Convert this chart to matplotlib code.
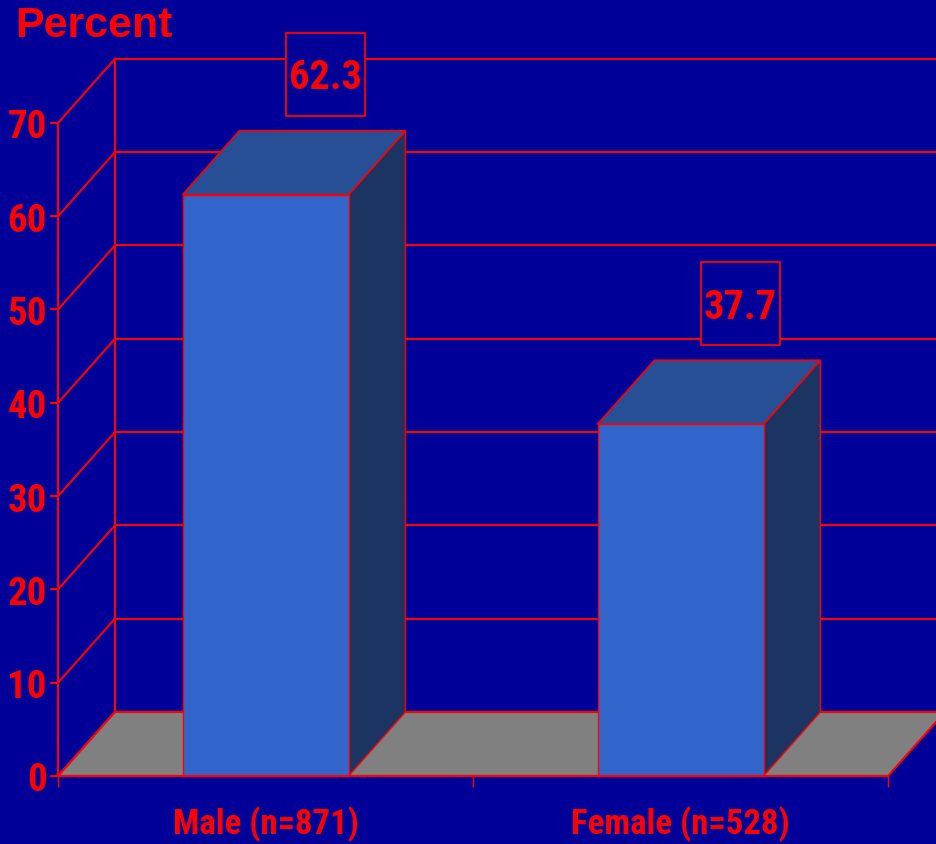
import matplotlib
matplotlib.use("Agg")
import os
import matplotlib.pyplot as plt
from matplotlib.patches import Polygon, Rectangle
from matplotlib import font_manager as fm

categories = ["Male (n=871)", "Female (n=528)"]
values = [62.3, 37.7]
value_labels = ["62.3", "37.7"]
y_ticks = [0, 10, 20, 30, 40, 50, 60, 70]
y_title = "Percent"

BG = "#000099"
RED = "#FF0000"
FRONT = "#3366CC"
TOP = "#264F96"
SIDE = "#1B3462"
FLOOR = "#808080"


def find_narrow_bold():
    files = [f.fname for f in fm.fontManager.ttflist]
    prefs = ["liberationsansnarrow-bold.", "robotocondensed-bold.",
             "dejavusanscondensed-bold.", "notosans-condensedbold.",
             "opensans-condensedbold.", "notosans-extracondensedbold."]
    for key in prefs:
        for f in files:
            if os.path.basename(f).lower().startswith(key):
                return fm.FontProperties(fname=f)
    for f in files:
        b = os.path.basename(f).lower()
        if ("condensed" in b or "narrow" in b) and "bold" in b and "italic" not in b \
                and "oblique" not in b and "semi" not in b and "extrabold" not in b:
            return fm.FontProperties(fname=f)
    return fm.FontProperties(family="DejaVu Sans", weight="bold", stretch="condensed")


NARROW = find_narrow_bold()


def fp(size):
    p = NARROW.copy()
    p.set_size(size)
    return p


fig = plt.figure(figsize=(9.37, 8.45), dpi=100, facecolor=BG)
ax = fig.add_axes([0, 0, 1, 1], facecolor=BG)
ax.set_xlim(-0.64, 1.618)
ax.set_ylim(-7.29, 83.28)

dx, dy = 0.137, 6.86   # depth offset
w = 0.40
x0, x1 = -0.5, 1.5
lw = 1.5

# back wall gridlines and diagonals
for t in y_ticks:
    ax.plot([x0 + dx, 1.7], [t + dy, t + dy], color=RED, lw=lw, zorder=1)
    ax.plot([x0, x0 + dx], [t, t + dy], color=RED, lw=lw, zorder=1)
ax.plot([x0 + dx, x0 + dx], [dy, y_ticks[-1] + dy], color=RED, lw=lw, zorder=1)

# floor
ax.add_patch(Polygon([(x0, 0), (x1, 0), (x1 + dx, dy), (x0 + dx, dy)], closed=True,
                     facecolor=FLOOR, edgecolor=RED, lw=lw, zorder=2))

# bars
bw, bh = 0.19, 8.9
for i, v in enumerate(values):
    l, r = i - w / 2, i + w / 2
    ax.add_patch(Polygon([(r, 0), (r + dx, dy), (r + dx, v + dy), (r, v)], closed=True,
                         facecolor=SIDE, edgecolor=RED, lw=1, zorder=3))
    ax.add_patch(Polygon([(l, v), (r, v), (r + dx, v + dy), (l + dx, v + dy)], closed=True,
                         facecolor=TOP, edgecolor=RED, lw=1.2, zorder=3))
    ax.add_patch(Rectangle((l, 0), w, v, facecolor=FRONT, edgecolor=RED, lw=1, zorder=4))
    cx, cy = i + 0.145, v + 12.9
    ax.add_patch(Rectangle((cx - bw / 2, cy - bh / 2), bw, bh, facecolor=BG,
                           edgecolor=RED, lw=1.3, zorder=6))
    ax.text(cx, cy - 0.3, value_labels[i], color=RED, fontproperties=fp(29),
            ha="center", va="center", zorder=7)

# axes via spines
for s in ["top", "right"]:
    ax.spines[s].set_visible(False)
ax.spines["left"].set_position(("data", x0))
ax.spines["left"].set_bounds(0, y_ticks[-1])
ax.spines["bottom"].set_position(("data", 0))
ax.spines["bottom"].set_bounds(x0, x1)
for s in ["left", "bottom"]:
    ax.spines[s].set_color(RED)
    ax.spines[s].set_linewidth(lw)
    ax.spines[s].set_zorder(5)

ax.set_yticks(y_ticks)
ax.set_yticklabels([str(t) for t in y_ticks], color=RED, fontproperties=fp(28))
ax.tick_params(axis="y", direction="out", length=6, width=lw, color=RED, pad=2)

ax.set_xticks([x0, 0.5, x1])
ax.set_xticklabels([])
ax.set_xticks([0, 1], minor=True)
ax.set_xticklabels(categories, minor=True, color=RED, fontproperties=fp(25))
ax.tick_params(axis="x", which="major", direction="out", length=8, width=1, color=RED)
ax.tick_params(axis="x", which="minor", length=0, pad=21)

fig.text(15 / 937, 1 - 26 / 845, y_title, color=RED, fontsize=31, fontweight="bold",
         family=["Liberation Sans", "DejaVu Sans"], ha="left", va="center")

fig.savefig("out.png", dpi=100, facecolor=BG)
